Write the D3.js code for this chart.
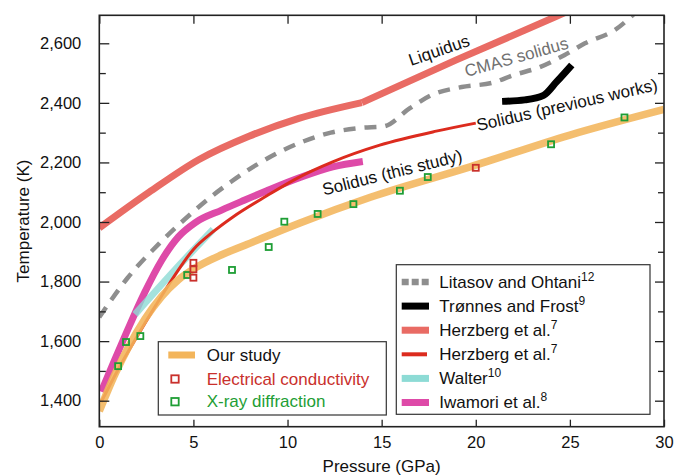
<!DOCTYPE html>
<html><head><meta charset="utf-8">
<script src="https://cdn.jsdelivr.net/npm/d3@7"></script>
<style>
body{margin:0;background:#fff;}
svg text{font-family:"Liberation Sans",Arial,Helvetica,sans-serif;}
</style></head>
<body><svg id="c" width="675" height="476"></svg>
<script>
// ---------- data ----------
const pressureTicks = [0,5,10,15,20,25,30];
const tempMajorTicks = [1400,1600,1800,2000,2200,2400,2600];
const tempMinorTicks = [1500,1700,1900,2100,2300,2500];

const liquidusP = [0,2.65,5.3,7.95,10.6,13.95,19,24.2,25.5];
const liquidusT = [1980,2100,2210,2288,2348,2401,2545,2688,2725];

const cmasP = [0,1.5,3.3,5.0,6.0,7.0,8.3,9.6,10.9,12.3,13.9,15.1,16.5,17.65,19.25,20.9,22.0,23.4,24.7,25.8,27.4,28.6];
const cmasT = [1680,1812,1935,2035,2088,2135,2190,2236,2272,2300,2316,2321,2382,2426,2453,2468,2493,2520,2560,2600,2645,2710];

const tronnesP = [21.4,22.6,23.6,24.3,25.1];
const tronnesT = [2405,2410,2425,2471,2527];

const herzSolP = [0.1,1,2,3,4,5,6,7.1,8.9,10.6,12.4,14.9,17.9,20];
const herzSolT = [1395,1505,1615,1720,1820,1908,1965,2017,2088,2150,2202,2258,2305,2332];

const iwamoriP = [0.1,0.8,1.5,2.4,3.3,4.2,5.1,6.5,7.7,8.9,10.7,12.4,14.0];
const iwamoriT = [1430,1535,1637,1762,1870,1950,1998,2040,2073,2105,2150,2185,2203];

const walterP = [1.9,4.0,6.05];
const walterT = [1690,1838,1975];

const ourP = [0,0.84,1.53,2.43,3.31,4.18,5.08,6.5,7.74,10.66,14.4,19.7,25,30];
const ourT = [1365,1490,1578,1675,1750,1805,1845,1890,1922,1997,2083,2185,2292,2378];

const xrdP = [1.0,1.42,2.18,4.67,7.05,9.0,9.83,11.6,13.5,15.97,17.45,24.0,27.9];
const xrdT = [1516,1597,1617,1822,1839,1916,2001,2027,2060,2105,2151,2261,2351];

const ecP = [5,5,5,20];
const ecT = [1863,1841,1813,2182];

// ---------- layout ----------
const L = 99.3, R = 664, T0 = 15.3, B = 426.7;
const x = d3.scaleLinear().domain([0,30]).range([L,R]);
const y = d3.scaleLinear().domain([1312.7,2694]).range([B,T0]);

const C = {
  liq:"#e96b64", sol:"#dc2b1e", gray:"#8e8e8e", our:"#f3b55b",
  mag:"#de4aa8", cyan:"#8ddbd5", grn:"#1e9e35", red:"#c9302c"
};

const svg = d3.select("#c");
svg.append("defs").append("clipPath").attr("id","clip")
  .append("rect").attr("x",L).attr("y",T0).attr("width",R-L).attr("height",B-T0);

const plot = svg.append("g").attr("clip-path","url(#clip)");
const zip = (P,Tv) => P.map((p,i)=>[p,Tv[i]]);
const lineM = d3.line().x(d=>x(d[0])).y(d=>y(d[1])).curve(d3.curveMonotoneX);
const lineL = d3.line().x(d=>x(d[0])).y(d=>y(d[1]));

function draw(path, color, w, extra){
  const p = plot.append("path").attr("d",path).attr("fill","none")
    .attr("stroke",color).attr("stroke-width",w).attr("stroke-linejoin","round");
  if(extra) extra(p);
  return p;
}
const liq = zip(liquidusP,liquidusT);
draw(lineM(liq.slice(0,6)), C.liq, 7);
draw(lineL(liq.slice(5)), C.liq, 7);
draw(lineM(zip(cmasP,cmasT)), C.gray, 4.5, p=>p.attr("stroke-dasharray","12,9"));
draw(lineM(zip(tronnesP,tronnesT)), "#000", 7);
draw(lineM(zip(iwamoriP,iwamoriT)), C.mag, 7);
draw(lineM(zip(walterP,walterT)), C.cyan, 7, p=>p.attr("opacity",0.8));
draw(lineM(zip(herzSolP,herzSolT)), C.sol, 3);
draw(lineM(zip(ourP,ourT)), C.our, 7.5, p=>p.attr("opacity",0.88));

const sq = 6;
plot.selectAll(".xrd").data(zip(xrdP,xrdT)).enter().append("rect")
  .attr("x",d=>x(d[0])-sq/2).attr("y",d=>y(d[1])-sq/2).attr("width",sq).attr("height",sq)
  .attr("fill","none").attr("stroke",C.grn).attr("stroke-width",1.8);
plot.selectAll(".ec").data(zip(ecP,ecT)).enter().append("rect")
  .attr("x",d=>x(d[0])-sq/2).attr("y",d=>y(d[1])-sq/2).attr("width",sq).attr("height",sq)
  .attr("fill","none").attr("stroke",C.red).attr("stroke-width",1.8);

// ---------- axes ----------
const fs = "16.5px";
const axB = d3.axisBottom(x).tickValues(pressureTicks).tickSize(-7).tickPadding(10).tickFormat(d3.format("d"));
const axT = d3.axisTop(x).tickValues(pressureTicks).tickSize(-8.5).tickFormat("");
const axLmaj = d3.axisLeft(y).tickValues(tempMajorTicks).tickSize(-10).tickPadding(18).tickFormat(d3.format(","));
const axLmin = d3.axisLeft(y).tickValues(tempMinorTicks).tickSize(-6.5).tickFormat("");
const axRmaj = d3.axisRight(y).tickValues(tempMajorTicks).tickSize(-9).tickFormat("");
const axRmin = d3.axisRight(y).tickValues(tempMinorTicks).tickSize(-6).tickFormat("");

function styl(g){
  g.select(".domain").remove();
  g.selectAll("line").attr("stroke","#222").attr("stroke-width",1.3);
  g.selectAll("text").attr("font-size",fs).attr("fill","#111")
    .attr("font-family",'"Liberation Sans",Arial,Helvetica,sans-serif');
}
svg.append("g").attr("transform",`translate(0,${B})`).call(axB).call(styl);
svg.append("g").attr("transform",`translate(0,${T0})`).call(axT).call(styl);
svg.append("g").attr("transform",`translate(${L},0)`).call(axLmaj).call(styl);
svg.append("g").attr("transform",`translate(${L},0)`).call(axLmin).call(styl);
svg.append("g").attr("transform",`translate(${R},0)`).call(axRmaj).call(styl);
svg.append("g").attr("transform",`translate(${R},0)`).call(axRmin).call(styl);

svg.append("rect").attr("x",L).attr("y",T0).attr("width",R-L).attr("height",B-T0)
  .attr("fill","none").attr("stroke","#222").attr("stroke-width",1.6);

svg.append("text").attr("x",(L+R)/2).attr("y",472).attr("text-anchor","middle")
  .attr("font-size","17px").attr("fill","#111").text("Pressure (GPa)");
svg.append("text").attr("transform",`translate(29,${(T0+B)/2}) rotate(-90)`).attr("text-anchor","middle")
  .attr("font-size","17px").attr("fill","#111").text("Temperature (K)");

// ---------- curve labels ----------
function label(txt,px,py,ang,color){
  svg.append("text").attr("transform",`translate(${px},${py}) rotate(${ang})`)
    .attr("font-size","17px").attr("fill",color).text(txt);
}
label("Liquidus",411,66,-19,"#111");
label("CMAS solidus",466.5,77,-15.6,"#707070");
label("Solidus (previous works)",478,131,-12.8,"#111");
label("Solidus (this study)",324,195.5,-14,"#111");

// ---------- legend 1 ----------
svg.append("rect").attr("x",158.3).attr("y",341.7).attr("width",228).attr("height",73.3)
  .attr("fill","#fff").attr("stroke","#333").attr("stroke-width",1.2);
svg.append("line").attr("x1",168.3).attr("x2",195).attr("y1",355).attr("y2",355)
  .attr("stroke",C.our).attr("stroke-width",7);
svg.append("text").attr("x",206.7).attr("y",361).attr("font-size","17px").attr("fill","#111").text("Our study");
svg.append("rect").attr("x",171.3).attr("y",375.3).attr("width",7.4).attr("height",7.4)
  .attr("fill","none").attr("stroke",C.red).attr("stroke-width",1.8);
svg.append("text").attr("x",206.7).attr("y",384.5).attr("font-size","17px").attr("fill",C.red).text("Electrical conductivity");
svg.append("rect").attr("x",171.3).attr("y",398).attr("width",7.4).attr("height",7.4)
  .attr("fill","none").attr("stroke",C.grn).attr("stroke-width",1.8);
svg.append("text").attr("x",206.7).attr("y",407).attr("font-size","17px").attr("fill",C.grn).text("X-ray diffraction");

// ---------- legend 2 ----------
svg.append("rect").attr("x",396.3).attr("y",264.7).attr("width",253.7).attr("height",149.6)
  .attr("fill","#fff").attr("stroke","#333").attr("stroke-width",1.2);
const leg2 = [
  {name:"Litasov and Ohtani", sup:"12", color:C.gray, w:6.5, dash:"7,3"},
  {name:"Trønnes and Frost", sup:"9", color:"#000", w:7},
  {name:"Herzberg et al.", sup:"7", color:C.liq, w:7},
  {name:"Herzberg et al.", sup:"7", color:C.sol, w:4, short:true},
  {name:"Walter", sup:"10", color:C.cyan, w:7},
  {name:"Iwamori et al.", sup:"8", color:C.mag, w:7}
];
leg2.forEach((d,i)=>{
  const yy = 282 + i*24.1;
  const ln = svg.append("line").attr("x1",401.7).attr("x2",d.short?427:429)
    .attr("y1",yy).attr("y2",yy).attr("stroke",d.color).attr("stroke-width",d.w);
  if(d.dash) ln.attr("stroke-dasharray",d.dash);
  const t = svg.append("text").attr("x",439.3).attr("y",yy+5.5).attr("font-size","17px").attr("fill","#111");
  t.append("tspan").text(d.name);
  t.append("tspan").attr("dy",-7).attr("font-size","12px").text(d.sup);
});
</script></body></html>
